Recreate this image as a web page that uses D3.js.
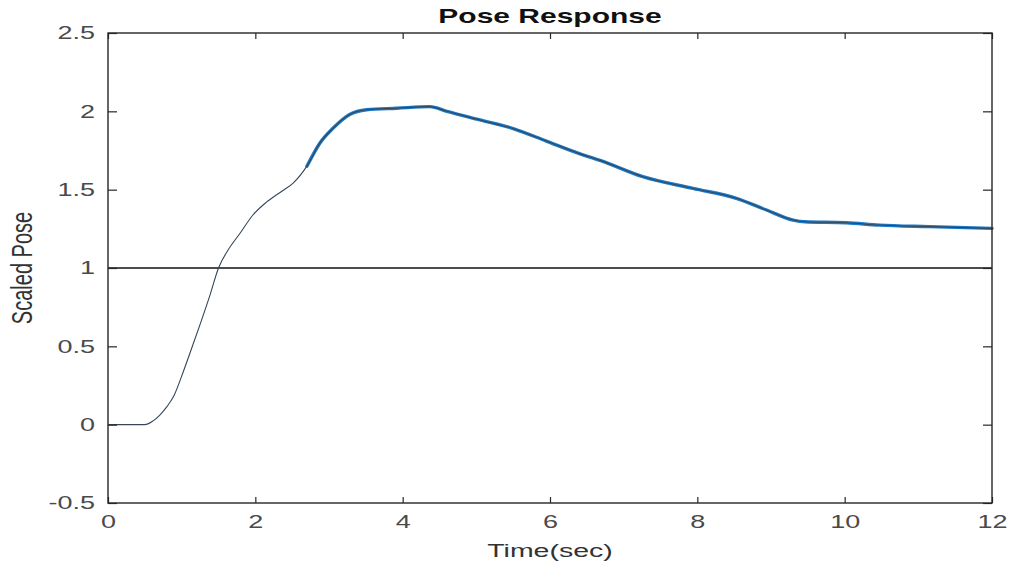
<!DOCTYPE html>
<html>
<head>
<meta charset="utf-8">
<script src="https://cdn.jsdelivr.net/npm/d3@7"></script>
<style>
  html, body { margin: 0; padding: 0; background: #fff; }
  svg { display: block; font-family: "Liberation Sans", Arial, Helvetica, sans-serif; }
</style>
</head>
<body>
<svg id="chart" width="1011" height="565"></svg>
<script>
// Pose response over time
const timeSec = [0, 0.5, 0.6, 0.7, 0.8, 0.9, 1.0, 1.1, 1.25, 1.38, 1.5, 1.63, 1.79, 1.97, 2.15, 2.36, 2.51, 2.70, 2.88, 3.05, 3.28, 3.51, 3.92, 4.37, 4.60, 5.05, 5.50, 5.95, 6.40, 6.68, 7.26, 7.94, 8.53, 8.94, 9.30, 9.46, 10.02, 10.47, 11.15, 12.0];
const scaledPose = [0, 0, 0.02, 0.06, 0.115, 0.19, 0.31, 0.44, 0.64, 0.82, 1.0, 1.115, 1.22, 1.34, 1.42, 1.49, 1.54, 1.65, 1.80, 1.89, 1.98, 2.01, 2.02, 2.03, 2.00, 1.945, 1.89, 1.81, 1.73, 1.687, 1.583, 1.508, 1.445, 1.37, 1.306, 1.295, 1.289, 1.274, 1.264, 1.253];
const referenceLevel = 1;
const xTicks = [0, 2, 4, 6, 8, 10, 12];
const yTicks = [-0.5, 0, 0.5, 1, 1.5, 2, 2.5];

const svg = d3.select("#chart");
const L = 108, R = 992, T = 33, B = 503;
const SX = 1.5; // horizontal text stretch

const x = d3.scaleLinear().domain([0, 12]).range([L, R]);
const y = d3.scaleLinear().domain([-0.5, 2.5]).range([B, T]);

const points = timeSec.map((t, i) => ({ t, v: scaledPose[i] }));
const line = d3.line().x(d => x(d.t)).y(d => y(d.v)).curve(d3.curveMonotoneX);

// reference line at 1
svg.append("line")
  .attr("x1", x(0)).attr("x2", x(12))
  .attr("y1", y(referenceLevel)).attr("y2", y(referenceLevel))
  .attr("stroke", "#111").attr("stroke-width", 1.3);

// response: blue band where the trace is dense, thin dark trace over all
svg.append("path")
  .datum(points.filter(d => d.t >= 2.7))
  .attr("d", line)
  .attr("fill", "none").attr("stroke", "#1f7ac8").attr("stroke-width", 3.4)
  .attr("stroke-linejoin", "round").attr("stroke-linecap", "round");
svg.append("path")
  .datum(points)
  .attr("d", line)
  .attr("fill", "none").attr("stroke", "#34475a").attr("stroke-width", 1.1)
  .attr("stroke-linejoin", "round");

const tickFmt = d => String(d);

// bottom axis
const gB = svg.append("g").attr("transform", `translate(0,${B})`)
  .call(d3.axisBottom(x).tickValues(xTicks).tickFormat(tickFmt).tickSize(-6).tickPadding(12));
// top axis (ticks only)
const gT = svg.append("g").attr("transform", `translate(0,${T})`)
  .call(d3.axisTop(x).tickValues(xTicks).tickFormat("").tickSize(-6));
// left axis
const gL = svg.append("g").attr("transform", `translate(${L},0)`)
  .call(d3.axisLeft(y).tickValues(yTicks).tickFormat(tickFmt).tickSize(-9).tickPadding(13));
// right axis (ticks only)
const gR = svg.append("g").attr("transform", `translate(${R},0)`)
  .call(d3.axisRight(y).tickValues(yTicks).tickFormat("").tickSize(-9));

[gB, gT, gL, gR].forEach(g => {
  g.select(".domain").remove();
  g.selectAll(".tick line").attr("stroke", "#262626").attr("stroke-width", 1.2);
});

gB.selectAll(".tick text")
  .attr("font-size", 18).attr("fill", "#4a4a4a")
  .attr("font-family", "Liberation Sans, Arial, sans-serif")
  .attr("transform", `scale(${SX},1)`);
gL.selectAll(".tick text")
  .attr("font-size", 18).attr("fill", "#4a4a4a")
  .attr("font-family", "Liberation Sans, Arial, sans-serif")
  .attr("x", -13 / SX)
  .attr("transform", `scale(${SX},1)`);

// axes box
svg.append("rect")
  .attr("x", L).attr("y", T).attr("width", R - L).attr("height", B - T)
  .attr("fill", "none").attr("stroke", "#262626").attr("stroke-width", 1.4);

// title
svg.append("text")
  .attr("transform", `translate(550,23) scale(${SX},1)`)
  .attr("text-anchor", "middle")
  .attr("font-size", 20).attr("font-weight", "bold").attr("fill", "#111")
  .text("Pose Response");

// x label
svg.append("text")
  .attr("transform", `translate(550,557) scale(${SX},1)`)
  .attr("text-anchor", "middle")
  .attr("font-size", 19).attr("fill", "#333")
  .text("Time(sec)");

// y label
svg.append("text")
  .attr("transform", `translate(32,268) scale(${SX},1) rotate(-90)`)
  .attr("text-anchor", "middle")
  .attr("font-size", 20).attr("fill", "#333")
  .text("Scaled Pose");
</script>
</body>
</html>
